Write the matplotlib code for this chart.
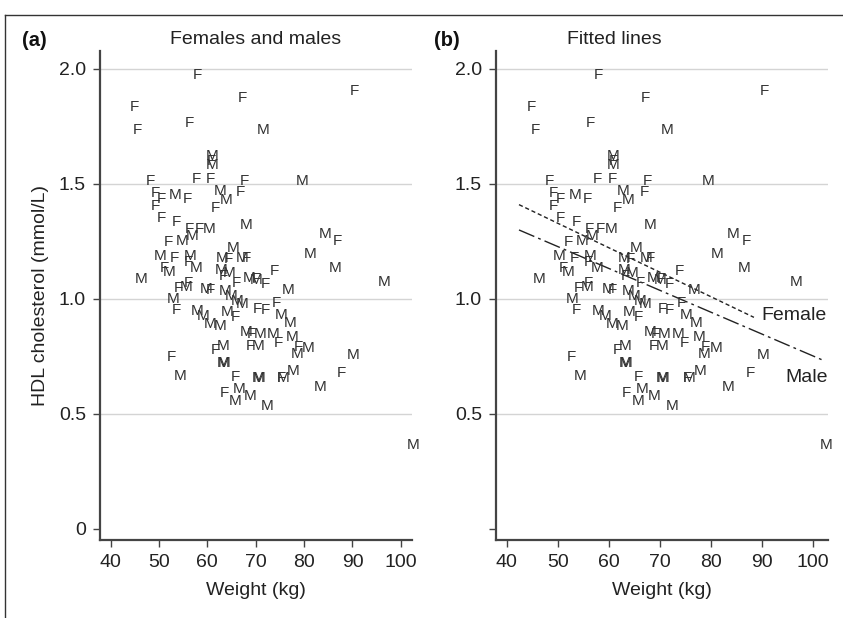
import matplotlib
matplotlib.use("Agg")
import matplotlib.pyplot as plt
from matplotlib.lines import Line2D
import numpy as np

# ---- data (weight kg, HDL mmol/L) ----
female_weight = [58.0, 67.2, 44.9, 56.4, 45.6, 90.4, 60.9, 48.3, 57.8, 60.6,
                 67.6, 49.2, 50.6, 55.8, 49.2, 50.5, 66.9, 61.6, 53.7, 56.2,
                 58.3, 52.0, 86.9, 73.8, 53.3, 56.0, 51.1, 64.3, 68.1, 63.3,
                 66.1, 70.2, 71.9, 54.0, 56.0, 60.7, 53.7, 65.7, 70.4, 71.9,
                 74.2, 52.6, 61.7, 69.1, 68.8, 74.7, 78.8, 65.7, 75.4, 87.8,
                 63.5]
female_hdl = [1.98, 1.88, 1.84, 1.77, 1.74, 1.91, 1.605, 1.52, 1.53, 1.53,
              1.52, 1.465, 1.44, 1.44, 1.41, 1.36, 1.47, 1.40, 1.34, 1.31,
              1.31, 1.255, 1.26, 1.13, 1.185, 1.167, 1.14, 1.18, 1.185, 1.107,
              1.078, 1.092, 1.07, 1.055, 1.075, 1.047, 0.958, 0.93, 0.962, 0.958,
              0.987, 0.752, 0.784, 0.854, 0.803, 0.813, 0.796, 0.668, 0.664, 0.683,
              0.598]

male_weight = [71.5, 60.9, 60.9, 79.5, 62.7, 63.8, 53.3, 60.4, 56.8, 54.8,
               68.1, 84.4, 81.2, 86.4, 96.6, 76.6, 50.3, 56.4, 57.7, 52.1,
               46.4, 65.4, 63.0, 67.2, 62.9, 64.5, 68.6, 70.0, 55.7, 59.8,
               63.7, 65.0, 66.1, 67.1, 52.9, 57.8, 59.2, 60.6, 62.6, 64.0,
               75.2, 77.1, 68.1, 70.9, 73.6, 77.6, 63.2, 70.5, 80.9, 78.6,
               90.2, 63.2, 63.4, 54.4, 70.5, 70.7, 75.7, 77.8, 83.4, 66.6,
               65.7, 68.8, 72.3, 102.5]
male_hdl = [1.74, 1.627, 1.588, 1.52, 1.475, 1.438, 1.46, 1.31, 1.28, 1.26,
            1.33, 1.29, 1.20, 1.14, 1.08, 1.047, 1.193, 1.193, 1.14, 1.122,
            1.092, 1.227, 1.186, 1.186, 1.133, 1.121, 1.096, 1.09, 1.06, 1.048,
            1.042, 1.02, 0.998, 0.984, 1.007, 0.955, 0.933, 0.897, 0.89, 0.948,
            0.937, 0.904, 0.861, 0.854, 0.854, 0.842, 0.803, 0.803, 0.793, 0.767,
            0.763, 0.73, 0.726, 0.673, 0.664, 0.662, 0.664, 0.692, 0.622, 0.615,
            0.564, 0.586, 0.539, 0.37]

# fitted lines (endpoints)
female_fit_x = [42.4, 88.4]
female_fit_y = [1.41, 0.92]
male_fit_x = [42.4, 102.3]
male_fit_y = [1.30, 0.73]

x_ticks = [40, 50, 60, 70, 80, 90, 100]
y_ticks = [0, 0.5, 1.0, 1.5, 2.0]
y_ticklabels_a = ["0", "0.5", "1.0", "1.5", "2.0"]
y_ticklabels_b = ["", "0.5", "1.0", "1.5", "2.0"]
grid_levels = [0.5, 1.0, 1.5, 2.0]

# ---- styling ----
W, H = 843, 618
fig = plt.figure(figsize=(W / 100, H / 100), dpi=100)
fig.patch.set_facecolor("white")

NARROW = ["Liberation Sans Narrow", "Liberation Sans", "DejaVu Sans"]
REG = ["Liberation Sans", "DejaVu Sans"]
txt_col = "#222222"
mk_col = "#333333"
spine_col = "#444444"


def px_ax(l, r, t, b):
    return [l / W, 1 - b / H, (r - l) / W, (b - t) / H]


def style_axis(ax, xlim, ylabels):
    ax.set_xlim(*xlim)
    ax.set_ylim(-0.048, 2.078)
    for lv in grid_levels:
        ax.axhline(lv, color="#d4d4d4", lw=1.0, zorder=0)
    for s in ["top", "right"]:
        ax.spines[s].set_visible(False)
    for s in ["left", "bottom"]:
        ax.spines[s].set_color(spine_col)
        ax.spines[s].set_linewidth(1.6)
    ax.set_xticks(x_ticks)
    ax.set_xticklabels([str(v) for v in x_ticks], family=NARROW, fontsize=14, color=txt_col)
    ax.set_yticks(y_ticks)
    ax.set_yticklabels(ylabels, family=NARROW, fontsize=14, color=txt_col)
    ax.tick_params(direction="out", length=5, width=1, color=spine_col, pad=5)
    ax.set_xlabel("Weight (kg)", family=NARROW, fontsize=14, color=txt_col, labelpad=8)
    ax.patch.set_alpha(0)


def draw_points(ax):
    for x, y in zip(female_weight, female_hdl):
        ax.text(x, y, "F", ha="center", va="center_baseline", fontsize=11, family=REG,
                color=mk_col, clip_on=False)
    for x, y in zip(male_weight, male_hdl):
        ax.text(x, y, "M", ha="center", va="center_baseline", fontsize=11, family=REG,
                color=mk_col, clip_on=False)


# panel a
ax1 = fig.add_axes(px_ax(100, 412.3, 51, 540))
style_axis(ax1, (37.83, 102.36), y_ticklabels_a)
ax1.set_ylabel("HDL cholesterol (mmol/L)", family=NARROW, fontsize=14, color=txt_col, labelpad=7)
draw_points(ax1)

# panel b
ax2 = fig.add_axes(px_ax(496, 828, 51, 540))
style_axis(ax2, (37.9, 102.9), y_ticklabels_b)
draw_points(ax2)
ax2.plot(female_fit_x, female_fit_y, color="#222222", lw=1.0, ls=(0, (3, 2)))
ax2.plot(male_fit_x, male_fit_y, color="#222222", lw=1.0, ls=(0, (12, 3, 2, 3)))
ax2.text(89.8, 0.93, "Female", ha="left", va="center", family=NARROW, fontsize=14, color=txt_col)
ax2.text(94.6, 0.66, "Male", ha="left", va="center", family=NARROW, fontsize=14, color=txt_col)

# headers
fig.text(22 / W, 1 - 40 / H, "(a)", ha="left", va="center", family=REG, fontsize=14.5,
         fontweight="bold", color="#111111")
fig.text(256 / W, 1 - 40 / H, "Females and males", ha="center", va="center", family=NARROW,
         fontsize=14, color=txt_col)
fig.text(434 / W, 1 - 40 / H, "(b)", ha="left", va="center", family=REG, fontsize=14.5,
         fontweight="bold", color="#111111")
fig.text(614 / W, 1 - 40 / H, "Fitted lines", ha="center", va="center", family=NARROW,
         fontsize=14, color=txt_col)

# frame lines (top & left border)
fig.add_artist(Line2D([5 / W, 5 / W], [0, 1 - 15 / H], transform=fig.transFigure,
                      color="#333333", lw=1.0))
fig.add_artist(Line2D([5 / W, 1], [1 - 15 / H, 1 - 15 / H], transform=fig.transFigure,
                      color="#333333", lw=1.0))

fig.savefig("out.png", dpi=100)
